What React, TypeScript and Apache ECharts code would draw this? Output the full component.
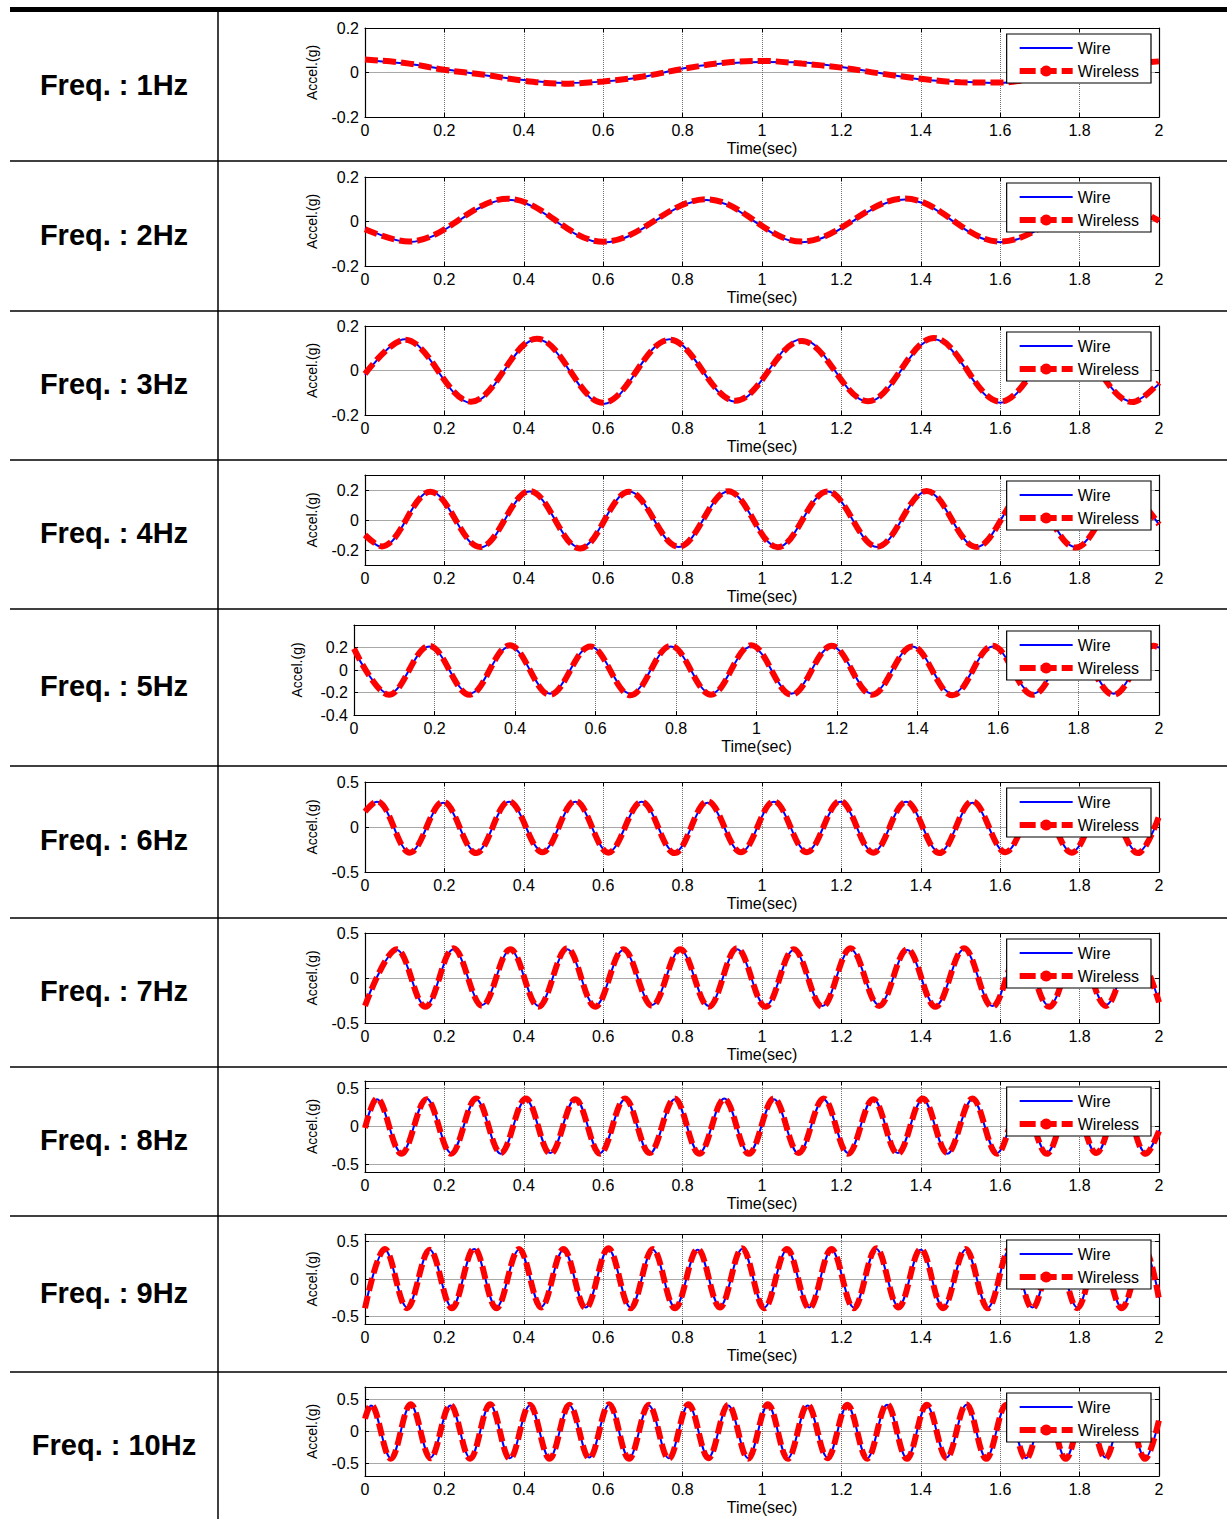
import React, { useEffect, useRef } from 'react';
import * as echarts from 'echarts';

const FONT = '"Liberation Sans", Arial, Helvetica, sans-serif';

// ---------- text ----------
const freqLabels = [
  'Freq. : 1Hz', 'Freq. : 2Hz', 'Freq. : 3Hz', 'Freq. : 4Hz', 'Freq. : 5Hz',
  'Freq. : 6Hz', 'Freq. : 7Hz', 'Freq. : 8Hz', 'Freq. : 9Hz', 'Freq. : 10Hz',
];
const seriesNames = ['Wire', 'Wireless'];
const xAxisName = 'Time(sec)';
const yAxisName = 'Accel.(g)';
const xMin = 0;
const xMax = 2;
const xStep = 0.2;

// ---------- data (time in s, acceleration in g) ----------
const t1 = [0, 0.1, 0.2, 0.3, 0.4, 0.5, 0.6, 0.7, 0.8, 0.9, 1.0, 1.1, 1.2, 1.3, 1.4, 1.5, 1.6, 1.7, 1.8, 1.9, 2];
const wire1 = [0.055, 0.04, 0.015, -0.012, -0.034, -0.047, -0.041, -0.02, 0.018, 0.04, 0.047, 0.045, 0.025, -0.003, -0.031, -0.041, -0.047, -0.025, 0.005, 0.03, 0.047];
const wireless1 = [0.058, 0.043, 0.012, -0.01, -0.037, -0.05, -0.04, -0.018, 0.016, 0.043, 0.052, 0.04, 0.022, -0.005, -0.028, -0.044, -0.045, -0.022, 0.003, 0.032, 0.05];

const t2 = [0, 0.11, 0.36, 0.6, 0.86, 1.1, 1.36, 1.6, 1.86, 2];
const wire2 = [-0.03, -0.092, 0.098, -0.094, 0.097, -0.093, 0.099, -0.093, 0.096, 0.0];
const wireless2 = [-0.035, -0.09, 0.102, -0.091, 0.1, -0.09, 0.103, -0.09, 0.098, 0.003];

const t3 = [0, 0.1, 0.267, 0.433, 0.6, 0.767, 0.933, 1.1, 1.267, 1.433, 1.6, 1.767, 1.933, 2];
const wire3 = [-0.02, 0.14, -0.145, 0.14, -0.15, 0.14, -0.14, 0.14, -0.14, 0.14, -0.145, 0.14, -0.14, -0.06];
const wireless3 = [-0.015, 0.138, -0.14, 0.143, -0.145, 0.138, -0.136, 0.133, -0.138, 0.146, -0.14, 0.138, -0.142, -0.055];

const t4 = [0, 0.042, 0.165, 0.29, 0.415, 0.542, 0.665, 0.79, 0.915, 1.04, 1.165, 1.29, 1.415, 1.54, 1.665, 1.79, 1.915, 2];
const wire4 = [-0.1, -0.18, 0.19, -0.185, 0.19, -0.185, 0.19, -0.18, 0.19, -0.18, 0.19, -0.18, 0.19, -0.18, 0.19, -0.18, 0.19, -0.03];
const wireless4 = [-0.1, -0.176, 0.188, -0.18, 0.193, -0.19, 0.188, -0.178, 0.192, -0.182, 0.19, -0.178, 0.194, -0.18, 0.188, -0.184, 0.19, -0.03];

const t5 = [0, 0.087, 0.187, 0.287, 0.387, 0.487, 0.587, 0.687, 0.787, 0.887, 0.987, 1.087, 1.187, 1.287, 1.387, 1.487, 1.587, 1.687, 1.787, 1.887, 1.987, 2];
const wire5 = [0.18,
  -0.21, 0.21, -0.21, 0.21, -0.21, 0.21, -0.21, 0.21, -0.21, 0.21,
  -0.21, 0.21, -0.21, 0.21, -0.21, 0.21, -0.21, 0.21, -0.21, 0.21,
  0.2];
const wireless5 = [0.19,
  -0.22, 0.215, -0.22, 0.22, -0.22, 0.21, -0.225, 0.215, -0.22, 0.22,
  -0.22, 0.215, -0.22, 0.21, -0.225, 0.215, -0.22, 0.21, -0.22, 0.215,
  0.2];

const t6 = [0, 0.03, 0.113, 0.197, 0.28, 0.363, 0.447, 0.53, 0.613, 0.697, 0.78, 0.863, 0.947, 1.03, 1.113, 1.197, 1.28, 1.363, 1.447, 1.53, 1.613, 1.697, 1.78, 1.863, 1.947, 2];
const wire6 = [0.19,
  0.28, -0.28, 0.27, -0.28, 0.28, -0.27,
  0.28, -0.28, 0.28, -0.28, 0.27, -0.28,
  0.28, -0.27, 0.28, -0.28, 0.28, -0.28,
  0.27, -0.28, 0.28, -0.28, 0.28, -0.28,
  0.1];
const wireless6 = [0.17,
  0.285, -0.285, 0.28, -0.29, 0.285, -0.28,
  0.29, -0.285, 0.28, -0.29, 0.285, -0.28,
  0.285, -0.28, 0.29, -0.285, 0.28, -0.29,
  0.285, -0.28, 0.29, -0.285, 0.28, -0.29,
  0.12];

const t7 = [0, 0.08, 0.152, 0.223, 0.295, 0.366, 0.437, 0.509, 0.58, 0.651, 0.723, 0.794, 0.866, 0.937, 1.009, 1.08, 1.152, 1.223, 1.295, 1.366, 1.437, 1.509, 1.58, 1.651, 1.723, 1.794, 1.866, 1.937, 2];
const wire7 = [-0.3,
  0.31, -0.31, 0.32, -0.3, 0.31, -0.31,
  0.32, -0.31, 0.31, -0.3, 0.31, -0.31,
  0.32, -0.31, 0.31, -0.31, 0.32, -0.3,
  0.31, -0.31, 0.32, -0.31, 0.31, -0.31,
  0.32, -0.3, 0.31,
  -0.26];
const wireless7 = [-0.31,
  0.32, -0.32, 0.33, -0.31, 0.32, -0.32,
  0.33, -0.32, 0.32, -0.31, 0.32, -0.32,
  0.33, -0.32, 0.32, -0.32, 0.33, -0.31,
  0.32, -0.32, 0.33, -0.32, 0.32, -0.32,
  0.33, -0.31, 0.32,
  -0.27];

const t8 = [0, 0.03, 0.092, 0.155, 0.217, 0.28, 0.342, 0.405, 0.467, 0.53, 0.592, 0.655, 0.717, 0.78, 0.842, 0.905, 0.967, 1.03, 1.092, 1.155, 1.217, 1.28, 1.342, 1.405, 1.467, 1.53, 1.592, 1.655, 1.717, 1.78, 1.842, 1.905, 1.967, 2];
const wire8 = [0.0,
  0.36, -0.35, 0.37, -0.35, 0.36, -0.36, 0.36, -0.35,
  0.37, -0.35, 0.36, -0.36, 0.36, -0.35, 0.37, -0.35,
  0.36, -0.36, 0.36, -0.35, 0.37, -0.35, 0.36, -0.36,
  0.36, -0.35, 0.37, -0.35, 0.36, -0.36, 0.36, -0.35,
  -0.05];
const wireless8 = [-0.02,
  0.37, -0.36, 0.36, -0.36, 0.37, -0.35, 0.37, -0.36,
  0.36, -0.36, 0.37, -0.35, 0.37, -0.36, 0.36, -0.36,
  0.37, -0.35, 0.37, -0.36, 0.36, -0.36, 0.37, -0.35,
  0.37, -0.36, 0.36, -0.36, 0.37, -0.35, 0.37, -0.36,
  -0.06];

const t9 = [0, 0.05, 0.106, 0.163, 0.219, 0.275, 0.331, 0.388, 0.444, 0.5, 0.556, 0.613, 0.669, 0.725, 0.781, 0.838, 0.894, 0.95, 1.006, 1.063, 1.119, 1.175, 1.231, 1.288, 1.344, 1.4, 1.456, 1.513, 1.569, 1.625, 1.681, 1.738, 1.794, 1.85, 1.906, 1.963, 2];
const wire9 = [-0.38,
  0.39, -0.38, 0.39, -0.38, 0.4, -0.38, 0.39, -0.37,
  0.39, -0.38, 0.4, -0.38, 0.39, -0.38, 0.39, -0.37,
  0.4, -0.38, 0.39, -0.38, 0.39, -0.38, 0.4, -0.37,
  0.39, -0.38, 0.39, -0.38, 0.4, -0.38, 0.39, -0.38,
  0.39, -0.38,
  0.39,
  -0.25];
const wireless9 = [-0.39,
  0.4, -0.39, 0.39, -0.39, 0.41, -0.39, 0.4, -0.38,
  0.4, -0.39, 0.41, -0.39, 0.4, -0.39, 0.4, -0.38,
  0.41, -0.39, 0.4, -0.39, 0.4, -0.39, 0.41, -0.38,
  0.4, -0.39, 0.4, -0.39, 0.41, -0.39, 0.4, -0.39,
  0.4, -0.39,
  0.4,
  -0.27];

const t10 = [0, 0.015, 0.065, 0.115, 0.165, 0.215, 0.265, 0.315, 0.365, 0.415, 0.465, 0.515, 0.565, 0.615, 0.665, 0.715, 0.765, 0.815, 0.865, 0.915, 0.965, 1.015, 1.065, 1.115, 1.165, 1.215, 1.265, 1.315, 1.365, 1.415, 1.465, 1.515, 1.565, 1.615, 1.665, 1.715, 1.765, 1.815, 1.865, 1.915, 1.965, 2];
const wire10 = [0.22,
  0.41, -0.42, 0.42, -0.41, 0.41, -0.42, 0.42, -0.42,
  0.41, -0.42, 0.41, -0.41, 0.42, -0.42, 0.41, -0.42,
  0.42, -0.41, 0.41, -0.42, 0.42, -0.42, 0.41, -0.41,
  0.41, -0.42, 0.42, -0.42, 0.41, -0.41, 0.42, -0.42,
  0.41, -0.42, 0.41, -0.42, 0.42, -0.41, 0.41, -0.42,
  0.17];
const wireless10 = [0.2,
  0.42, -0.43, 0.43, -0.42, 0.42, -0.43, 0.43, -0.43,
  0.42, -0.43, 0.42, -0.42, 0.43, -0.43, 0.42, -0.43,
  0.43, -0.42, 0.42, -0.43, 0.43, -0.43, 0.42, -0.42,
  0.42, -0.43, 0.43, -0.43, 0.42, -0.42, 0.43, -0.43,
  0.42, -0.43, 0.42, -0.43, 0.43, -0.42, 0.42, -0.43,
  0.18];

const times = [t1, t2, t3, t4, t5, t6, t7, t8, t9, t10];
const wireValues = [wire1, wire2, wire3, wire4, wire5, wire6, wire7, wire8, wire9, wire10];
const wirelessValues = [wireless1, wireless2, wireless3, wireless4, wireless5, wireless6, wireless7, wireless8, wireless9, wireless10];

// y-axis limits and tick labels
const yLimits = [[-0.2, 0.2], [-0.2, 0.2], [-0.2, 0.2], [-0.3, 0.3], [-0.4, 0.4], [-0.5, 0.5], [-0.5, 0.5], [-0.6, 0.6], [-0.6, 0.6], [-0.7, 0.7]];
const yTicksSmall = [-0.2, 0, 0.2];
const yTicksFive = [-0.4, -0.2, 0, 0.2];
const yTicksBig = [-0.5, 0, 0.5];
const yTickValues = [yTicksSmall, yTicksSmall, yTicksSmall, yTicksSmall, yTicksFive, yTicksBig, yTicksBig, yTicksBig, yTicksBig, yTicksBig];

// ---------- layout (pixels) ----------
const W = 1227;
const H = 1519;
const PLOT_RIGHT = 1159;
const PLOTS = [
  { left: 365, top: 28, height: 89, nameGap: 46 },
  { left: 365, top: 177, height: 89, nameGap: 46 },
  { left: 365, top: 326, height: 89, nameGap: 46 },
  { left: 365, top: 475, height: 90, nameGap: 46 },
  { left: 354, top: 625, height: 90, nameGap: 50 },
  { left: 365, top: 782, height: 90, nameGap: 46 },
  { left: 365, top: 933, height: 90, nameGap: 46 },
  { left: 365, top: 1081, height: 91, nameGap: 46 },
  { left: 365, top: 1234, height: 90, nameGap: 46 },
  { left: 365, top: 1387, height: 89, nameGap: 46 },
];
const ROW_LINES = [161, 311, 460, 609, 766, 918, 1067, 1216, 1372];
const LABEL_Y = [85, 235, 384, 533, 686, 840, 991, 1140, 1293, 1445];

function buildOption() {
  const grid: any[] = [];
  const xAxis: any[] = [];
  const yAxis: any[] = [];
  const series: any[] = [];
  const legend: any[] = [];

  PLOTS.forEach((p, i) => {
    grid.push({ left: p.left, top: p.top, width: PLOT_RIGHT - p.left, height: p.height, containLabel: false });
    const axisLine = { show: true, onZero: false, lineStyle: { color: '#000', width: 1.2 } };
    const tick = { show: true, inside: true, length: 4, lineStyle: { color: '#000', width: 1 } };
    xAxis.push({
      gridIndex: i, type: 'value', position: 'bottom', min: xMin, max: xMax, interval: xStep,
      name: xAxisName, nameLocation: 'middle', nameGap: 23,
      nameTextStyle: { fontSize: 16, fontFamily: FONT, color: '#000' },
      axisLine, axisTick: tick,
      axisLabel: { fontSize: 16, fontFamily: FONT, color: '#000', margin: 5 },
      splitLine: { show: true, lineStyle: { color: '#707070', type: 'dotted', width: 1 } },
    });
    xAxis.push({
      gridIndex: i, type: 'value', position: 'top', min: xMin, max: xMax, interval: xStep,
      axisLine, axisTick: tick, axisLabel: { show: false }, splitLine: { show: false },
    });
    const [lo, hi] = yLimits[i];
    const tv = yTickValues[i];
    yAxis.push({
      gridIndex: i, type: 'value', position: 'left', min: lo, max: hi,
      name: yAxisName, nameLocation: 'middle', nameRotate: 90, nameGap: p.nameGap,
      nameTextStyle: { fontSize: 14, fontFamily: FONT, color: '#000' },
      axisLine, axisTick: { ...tick, customValues: tv },
      axisLabel: { fontSize: 16, fontFamily: FONT, color: '#000', margin: 6, customValues: tv },
      splitLine: { show: true, lineStyle: { color: '#a8a8a8', type: 'solid', width: 1 } },
    });
    yAxis.push({
      gridIndex: i, type: 'value', position: 'right', min: lo, max: hi,
      axisLine, axisTick: { ...tick, customValues: tv },
      axisLabel: { show: false, customValues: tv }, splitLine: { show: false },
    });

    const t = times[i];
    series.push({
      name: seriesNames[0], type: 'line', xAxisIndex: 2 * i, yAxisIndex: 2 * i,
      data: t.map((x, k) => [x, wireValues[i][k]]),
      smooth: 0.36, symbol: 'none', silent: true, z: 2,
      lineStyle: { color: '#0000ff', width: 2 }, itemStyle: { color: '#0000ff' },
    });
    series.push({
      name: seriesNames[1], type: 'line', xAxisIndex: 2 * i, yAxisIndex: 2 * i,
      data: t.map((x, k) => [x, wirelessValues[i][k]]),
      smooth: 0.36, symbol: 'none', silent: true, z: 3,
      lineStyle: { color: '#ff0000', width: 6, type: [13, 5], cap: 'butt' }, itemStyle: { color: '#ff0000' },
    });

    legend.push({
      orient: 'vertical', right: W - 1151, top: p.top + 6,
      backgroundColor: '#fff', borderColor: '#000', borderWidth: 1.2, borderRadius: 0,
      padding: [6, 12, 4, 10], itemWidth: 53, itemHeight: 14, itemGap: 7,
      selectedMode: false, z: 10,
      textStyle: { fontSize: 16, fontFamily: FONT, color: '#000' },
      data: [
        { name: seriesNames[0], lineStyle: { width: 2, color: '#0000ff', type: 'solid' }, itemStyle: { opacity: 0, color: 'rgba(0,0,0,0)', borderWidth: 0 } },
        { name: seriesNames[1], lineStyle: { width: 6, color: '#ff0000', type: [16, 5] }, itemStyle: { color: '#ff0000', borderWidth: 0, opacity: 1 } },
      ],
    });
  });

  const graphic: any[] = [
    { type: 'rect', shape: { x: 10, y: 7, width: W - 10, height: 5 }, style: { fill: '#000' }, silent: true },
    { type: 'line', shape: { x1: 218, y1: 12, x2: 218, y2: H }, style: { stroke: '#000', lineWidth: 1.5 }, silent: true },
  ];
  ROW_LINES.forEach((y) => {
    graphic.push({ type: 'line', shape: { x1: 10, y1: y, x2: W, y2: y }, style: { stroke: '#000', lineWidth: 1.5 }, silent: true });
  });
  freqLabels.forEach((txt, i) => {
    graphic.push({
      type: 'text', x: 114, y: LABEL_Y[i], silent: true,
      style: {
        text: txt, font: `bold 29px ${FONT}`, fill: '#000',
        align: 'center', verticalAlign: 'middle', textAlign: 'center', textVerticalAlign: 'middle',
      },
    });
  });

  return {
    animation: false,
    backgroundColor: '#fff',
    grid, xAxis, yAxis, series, legend, graphic,
  };
}

export default function App() {
  const ref = useRef<HTMLDivElement>(null);
  useEffect(() => {
    if (!ref.current) return;
    const chart = echarts.init(ref.current, null, { renderer: 'svg', width: W, height: H });
    chart.setOption(buildOption() as any);
    return () => chart.dispose();
  }, []);
  return (
    <div
      ref={ref}
      style={{ position: 'absolute', left: 0, top: 0, width: W, height: H, background: '#fff' }}
    />
  );
}
